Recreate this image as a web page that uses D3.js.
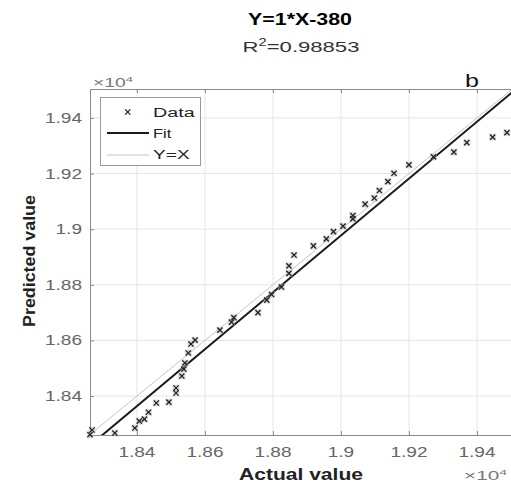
<!DOCTYPE html>
<html><head><meta charset="utf-8">
<script src="https://cdn.jsdelivr.net/npm/d3@7"></script>
<style>body{margin:0;background:#fff}svg{display:block}text{font-family:"Liberation Sans",Arial,sans-serif}</style>
</head><body>
<svg id="chart" width="511" height="488"></svg>
<script>
// ---- data (raw units; axes shown as value ×10^4) ----
const actual = [18262,18268,18335,18394,18407,18422,18434,18457,18494,18515,18515,18532,18538,18541,18551,18559,18571,18644,18678,18685,18756,18782,18796,18825,18847,18847,18862,18919,18957,18978,19006,19035,19035,19071,19098,19113,19138,19156,19200,19272,19332,19370,19446,19488];
const predicted = [18261,18278,18267,18285,18310,18317,18342,18375,18378,18411,18429,18472,18497,18519,18555,18587,18601,18637,18666,18682,18700,18745,18765,18792,18841,18868,18907,18940,18965,18991,19011,19037,19049,19090,19112,19139,19171,19201,19231,19260,19277,19311,19331,19347];
const fitSlope = 1.0226, fitIntercept = -452;
const tickValues = [18400,18600,18800,19000,19200,19400];
const tickLabels = ["1.84","1.86","1.88","1.9","1.92","1.94"];
const legendLabels = ["Data","Fit","Y=X"];
const titleText = "Y=1*X-380";
const r2Text = "0.98853";
const xLabel = "Actual value", yLabel = "Predicted value";
const xDomain = [18262,19500], yDomain = [18260,19504];

const svg = d3.select("#chart");
const L = 90, T = 89, R = 511, B = 435;
const x = d3.scaleLinear().domain(xDomain).range([L, R]);
const y = d3.scaleLinear().domain(yDomain).range([B, T]);

function addText(parent, str, px, py, opts){
  const g = parent.append("g");
  const t = g.append("text").text(str)
    .attr("font-size", opts.size).attr("fill", opts.fill || "#000")
    .attr("font-weight", opts.bold ? "bold" : "normal")
    .attr("text-anchor", opts.anchor || "start");
  const sx = opts.width ? opts.width / t.node().getComputedTextLength() : (opts.sx || 1);
  g.attr("transform", `translate(${px},${py})` + (opts.rotate ? ` rotate(${opts.rotate})` : "") + ` scale(${sx},1)`);
  return t;
}

// gridlines
svg.append("g").selectAll("line").data(tickValues).join("line")
  .attr("x1", d => x(d)).attr("x2", d => x(d)).attr("y1", T).attr("y2", B)
  .attr("stroke", "#e6e6e6").attr("stroke-width", 1);
svg.append("g").selectAll("line").data(tickValues).join("line")
  .attr("y1", d => y(d)).attr("y2", d => y(d)).attr("x1", L).attr("x2", R)
  .attr("stroke", "#e6e6e6").attr("stroke-width", 1);

// axes via d3 axis (inward ticks)
const axB = svg.append("g").attr("transform", `translate(0,${B})`)
  .call(d3.axisBottom(x).tickValues(tickValues).tickSizeInner(-4).tickSizeOuter(0).tickFormat(""));
const axT = svg.append("g").attr("transform", `translate(0,${T})`)
  .call(d3.axisTop(x).tickValues(tickValues).tickSizeInner(-4).tickSizeOuter(0).tickFormat(""));
const axL = svg.append("g").attr("transform", `translate(${L},0)`)
  .call(d3.axisLeft(y).tickValues(tickValues).tickSizeInner(-4).tickSizeOuter(0).tickFormat(""));
[axB, axT, axL].forEach(a => {
  a.selectAll("path").attr("stroke", "#8a8a8a");
  a.selectAll("line").attr("stroke", "#8a8a8a");
});

// tick labels
tickValues.forEach((v, i) => {
  addText(svg, tickLabels[i], x(v), 457, {size: 14, fill: "#666", anchor: "middle", sx: 1.36});
  addText(svg, tickLabels[i], 82, y(v) + 5, {size: 14, fill: "#666", anchor: "end", sx: 1.36});
});

// clip
svg.append("defs").append("clipPath").attr("id", "clip")
  .append("rect").attr("x", L).attr("y", T).attr("width", R - L).attr("height", B - T);
const plot = svg.append("g").attr("clip-path", "url(#clip)");

// Y=X line
plot.append("line")
  .attr("x1", x(18000)).attr("y1", y(18000)).attr("x2", x(20000)).attr("y2", y(20000))
  .attr("stroke", "#c4c4c4").attr("stroke-width", 1);
// fit line
plot.append("line")
  .attr("x1", x(18000)).attr("y1", y(fitSlope * 18000 + fitIntercept))
  .attr("x2", x(20000)).attr("y2", y(fitSlope * 20000 + fitIntercept))
  .attr("stroke", "#1a1a1a").attr("stroke-width", 2);

// data markers
const pts = actual.map((a, i) => [a, predicted[i]]);
const ms = 2.6;
const mk = svg.append("g");
mk.selectAll("rect").data(pts).join("rect")
  .attr("x", d => x(d[0]) - 3.5).attr("y", d => y(d[1]) - 3.5).attr("width", 7).attr("height", 7)
  .attr("fill", "#bbb").attr("opacity", 0.45);
mk.selectAll("path").data(pts).join("path")
  .attr("d", d => { const px = x(d[0]), py = y(d[1]);
    return `M${px-ms},${py-ms}L${px+ms},${py+ms}M${px-ms},${py+ms}L${px+ms},${py-ms}`; })
  .attr("stroke", "#222").attr("stroke-width", 1.3).attr("fill", "none");

// legend
const lg = svg.append("g");
lg.append("rect").attr("x", 100.5).attr("y", 97.5).attr("width", 100).attr("height", 68)
  .attr("fill", "#fff").attr("stroke", "#9a9a9a").attr("stroke-width", 1);
lg.append("path").attr("d", `M${127.7-ms},${112-ms}L${127.7+ms},${112+ms}M${127.7-ms},${112+ms}L${127.7+ms},${112-ms}`)
  .attr("stroke", "#222").attr("stroke-width", 1.3);
lg.append("line").attr("x1", 107).attr("x2", 149).attr("y1", 133).attr("y2", 133)
  .attr("stroke", "#1a1a1a").attr("stroke-width", 2);
lg.append("line").attr("x1", 107).attr("x2", 149).attr("y1", 155).attr("y2", 155)
  .attr("stroke", "#c4c4c4").attr("stroke-width", 1);
const lgW = [41.7, 18.3, 36.7], lgY = [117, 137.5, 159];
legendLabels.forEach((s, i) => addText(lg, s, 153, lgY[i], {size: 12.5, fill: "#222", width: lgW[i]}));

// titles
addText(svg, titleText, 300, 25, {size: 17, bold: true, anchor: "middle", width: 104});
{
  const g = svg.append("g");
  const t = g.append("text").attr("font-size", 15).attr("fill", "#333").attr("text-anchor", "middle");
  t.append("tspan").text("R");
  t.append("tspan").text("2").attr("font-size", 10).attr("dy", -6);
  t.append("tspan").text("=" + r2Text).attr("dy", 6);
  const sx = 117 / t.node().getComputedTextLength();
  g.attr("transform", `translate(301,52) scale(${sx},1)`);
}
addText(svg, "b", 465, 87, {size: 19, fill: "#111", width: 14});

// x10^4 exponents
function expo(px, py, w){
  const g = svg.append("g");
  const t = g.append("text").attr("font-size", 12).attr("fill", "#777");
  t.append("tspan").text("×10");
  t.append("tspan").text("4").attr("font-size", 8).attr("dy", -5);
  const sx = w / t.node().getComputedTextLength();
  g.attr("transform", `translate(${px},${py}) scale(${sx},1)`);
}
expo(93, 87, 40);
expo(464, 480, 43);

// axis labels
addText(svg, xLabel, 301, 480, {size: 16, bold: true, fill: "#222", anchor: "middle", width: 124});
addText(svg, yLabel, 35, 261, {size: 16, bold: true, fill: "#222", anchor: "middle", rotate: -90, width: 132});
</script>
</body></html>
